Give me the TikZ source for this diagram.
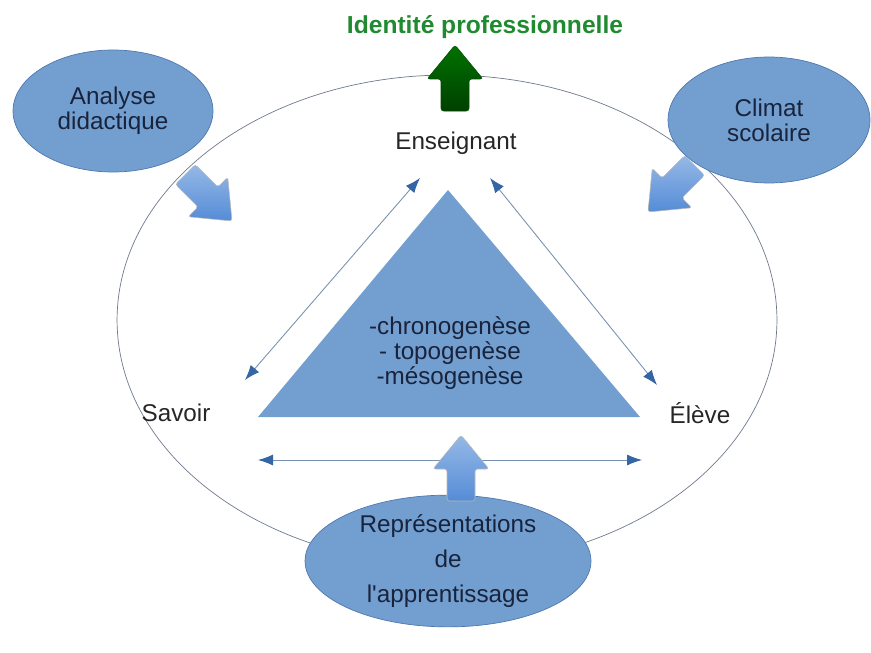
\documentclass[tikz,border=0pt]{standalone}
\usepackage{fontspec}
\setmainfont{Liberation Sans}
\usetikzlibrary{arrows.meta,positioning,shapes.geometric}

\definecolor{fondbleu}{RGB}{114,159,207}
\definecolor{bordbleu}{RGB}{80,120,175}
\definecolor{textebleu}{RGB}{25,35,60}
\definecolor{pointe}{RGB}{52,101,164}
\definecolor{trait}{RGB}{120,145,175}
\definecolor{cadregris}{RGB}{110,122,140}
\definecolor{vertid}{RGB}{31,138,47}
\definecolor{flechehaut}{RGB}{150,185,230}
\definecolor{flechebas}{RGB}{85,140,215}

\begin{document}
\begin{tikzpicture}[
    x=0.02cm, y=-0.02cm,
    font=\fontsize{13.8}{14.2}\selectfont,
    bulle/.style={ellipse, draw=bordbleu, line width=0.4pt, fill=fondbleu, align=center, text=textebleu, inner sep=0pt},
    pole/.style={align=center, text=black!85},
    fleche/.style={draw=trait, line width=0.5pt, {Latex[length=3mm,width=2.2mm,color=pointe]}-{Latex[length=3mm,width=2.2mm,color=pointe]}},
    bleue/.style={draw=gray!55, line width=0.3pt, top color=flechehaut, bottom color=flechebas},
    pics/blockarrow/.style={code={
      \path[pic actions, rounded corners=1.5pt] (0,0) -- (28,34) -- (14,34) -- (14,66) -- (-14,66) -- (-14,34) -- (-28,34) -- cycle;
    }}
    ]
    \useasboundingbox (0,0) rectangle (871,652);

    % Outer frame ellipse
    \node[ellipse, draw=cadregris, line width=0.4pt, minimum width=13.2cm, minimum height=9.8cm] (cadre) at (447,320) {};

    % Didactic triangle
    \coordinate (sommet) at (448,190);
    \coordinate (baseG) at (258,417);
    \coordinate (baseD) at (640,417);
    \fill[fondbleu] (sommet) -- (baseG) -- (baseD) -- cycle;
    \node[align=center, text=textebleu] (genese) at (450,353) {-chronogenèse\\- topogenèse\\-mésogenèse};

    % Poles of the triangle
    \node[pole] (enseignant) at (456,143) {Enseignant};
    \node[pole] (savoir) at (176,413) {Savoir};
    \node[pole] (eleve) at (700,413) {Élève};

    % Thin double arrows along the sides
    \coordinate (ensG) at (420,178);
    \coordinate (savH) at (245,380);
    \coordinate (ensD) at (490,178);
    \coordinate (eleH) at (657,385);
    \coordinate (savB) at (258,460);
    \coordinate (eleB) at (642,460);
    \draw[fleche] (savH) -- (ensG);
    \draw[fleche] (ensD) -- (eleH);
    \draw[fleche] (savB) -- (eleB);

    % Outer influences
    \node[bulle, minimum width=4cm, minimum height=2.44cm] (analyse) at (113,111) {Analyse\\didactique};
    \node[bulle, minimum width=4.04cm, minimum height=2.52cm] (climat) at (769,120) {Climat\\scolaire};
    \node[bulle, minimum width=5.72cm, minimum height=2.56cm, font=\fontsize{13.8}{20}\selectfont] (representations) at (448,561) {Représentations\\de\\l\textquotesingle apprentissage};

    % Block arrows
    \pic[bleue, rotate=-135] (versA) at (232,221) {blockarrow};
    \pic[bleue, rotate=135] (versC) at (648,212) {blockarrow};
    \pic[bleue] (versR) at (461,435) {blockarrow};

    % Top: professional identity
    \pic[draw=green!30!black, line width=0.3pt, top color=green!45!black, bottom color=green!25!black] (versI) at (455,45) {blockarrow};
    \node[text=vertid, font=\fontsize{14}{16}\selectfont\bfseries] (identite) at (485,27) {Identité professionnelle};

  \end{tikzpicture}
\end{document}
